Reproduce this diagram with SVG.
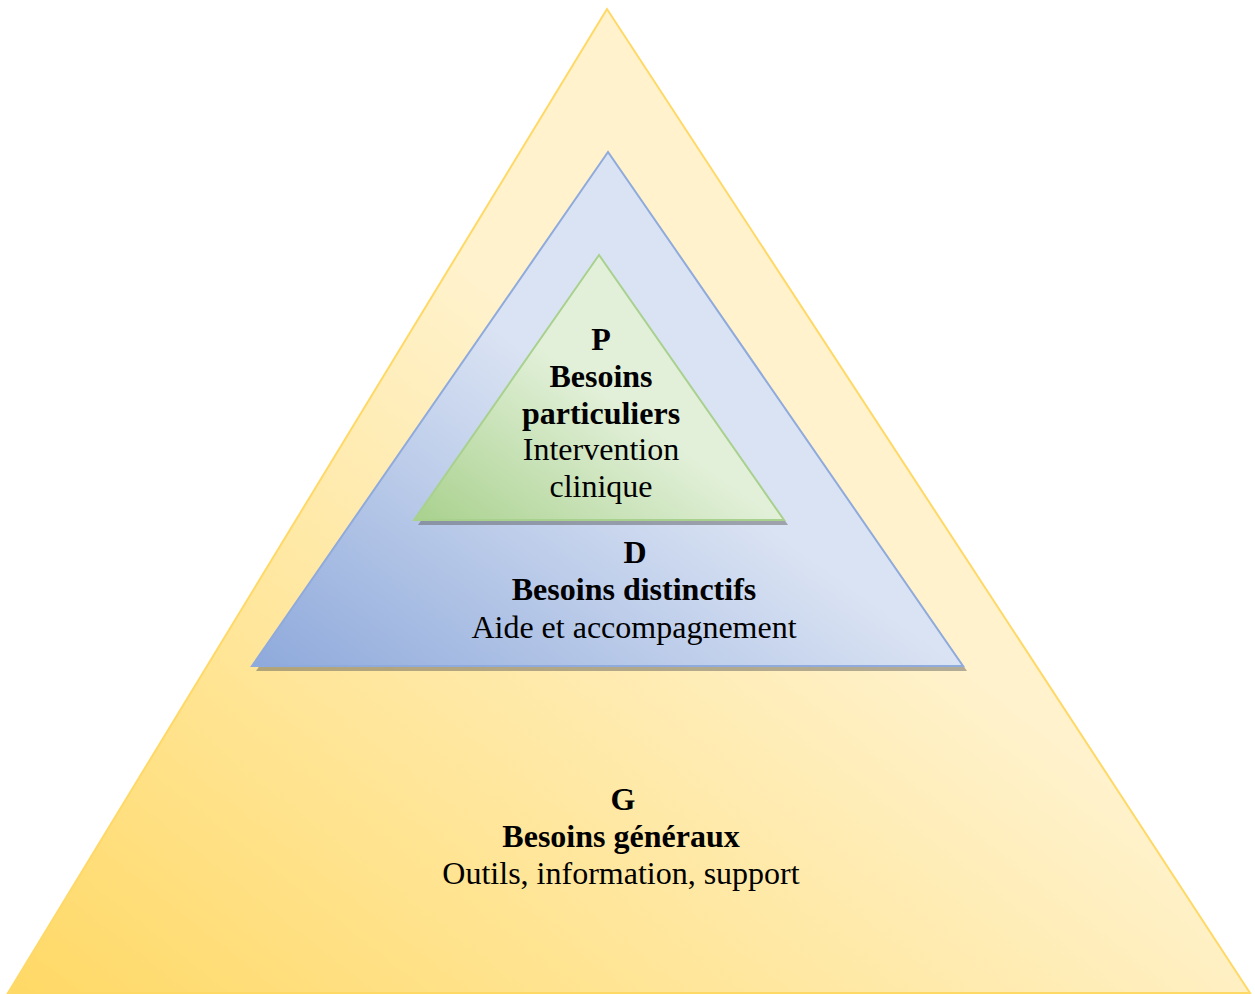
<svg xmlns="http://www.w3.org/2000/svg" width="1255" height="994" viewBox="0 0 1255 994">
  <defs>
    <linearGradient id="gYellow" x1="0" y1="1" x2="1" y2="0">
      <stop offset="0" stop-color="#FFD966"/>
      <stop offset="0.55" stop-color="#FFF2CC"/>
      <stop offset="1" stop-color="#FFF2CC"/>
    </linearGradient>
    <linearGradient id="gBlue" x1="0" y1="1" x2="1" y2="0">
      <stop offset="0" stop-color="#8EA9DB"/>
      <stop offset="0.5" stop-color="#DAE3F3"/>
      <stop offset="1" stop-color="#DAE3F3"/>
    </linearGradient>
    <linearGradient id="gGreen" x1="0" y1="1" x2="1" y2="0">
      <stop offset="0" stop-color="#A9D18E"/>
      <stop offset="0.5" stop-color="#E2F0D9"/>
      <stop offset="1" stop-color="#E2F0D9"/>
    </linearGradient>
  </defs>
  <style>
    .t { font-family: "Liberation Serif", "Times New Roman", serif; font-size: 32px; fill: #000; text-anchor: middle; }
    .b { font-weight: bold; }
    .shadow { fill: #555; opacity: 0.45; }
  </style>

  <g id="general">
    <polygon points="607,9 8,993 1250,993" fill="url(#gYellow)" stroke="#FFD966" stroke-width="2"/>
    <text class="t b" x="623" y="810">G</text>
    <text class="t b" x="621" y="847">Besoins généraux</text>
    <text class="t" x="621" y="884">Outils, information, support</text>
  </g>

  <g id="distinctive">
    <polygon class="shadow" points="611,157 256,671 967,671"/>
    <polygon points="608,152 252,666 963,666" fill="url(#gBlue)" stroke="#8FAADC" stroke-width="2"/>
    <text class="t b" x="635" y="563">D</text>
    <text class="t b" x="634" y="600">Besoins distinctifs</text>
    <text class="t" x="634" y="638">Aide et accompagnement</text>
  </g>

  <g id="particular">
    <polygon class="shadow" points="602,260 418,525 788,525"/>
    <polygon points="599,255 414,520 784,520" fill="url(#gGreen)" stroke="#A9D18E" stroke-width="2"/>
    <text class="t b" x="601" y="350">P</text>
    <text class="t b" x="601" y="387">Besoins</text>
    <text class="t b" x="601" y="424">particuliers</text>
    <text class="t" x="601" y="460">Intervention</text>
    <text class="t" x="601" y="497">clinique</text>
  </g>
</svg>
